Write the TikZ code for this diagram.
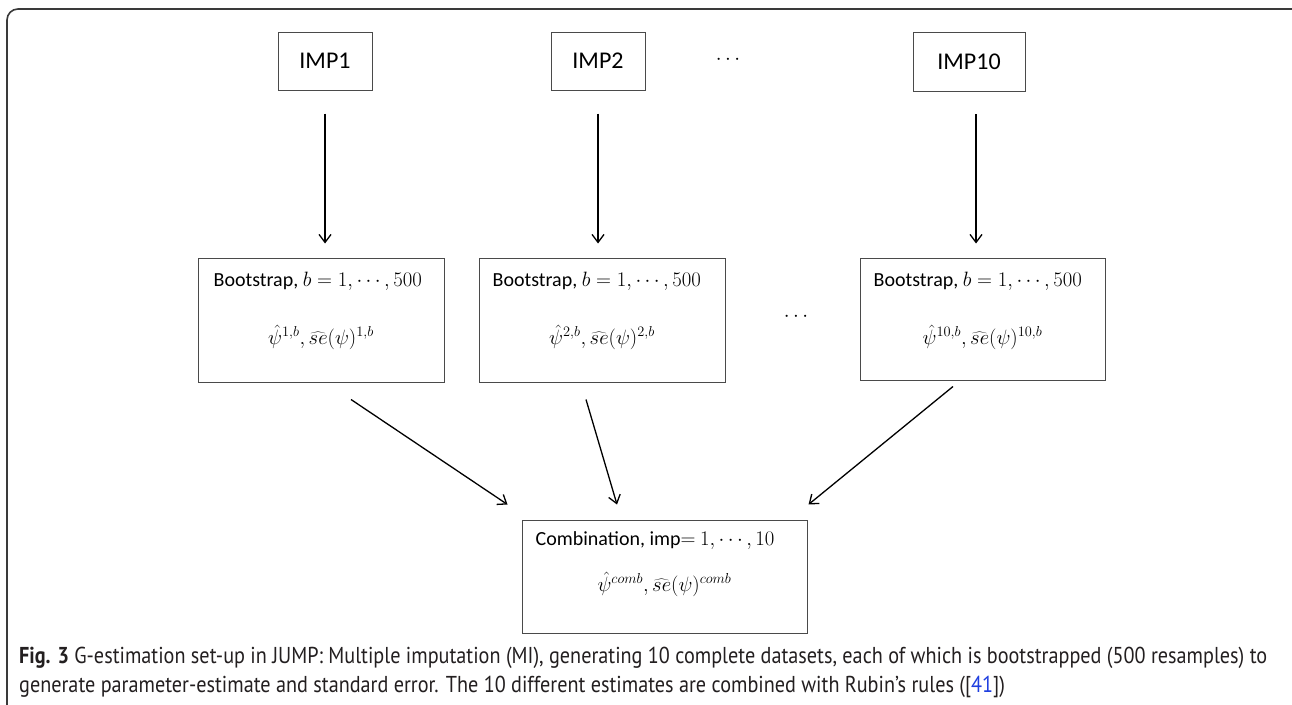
\documentclass[tikz,border=0pt]{standalone}
\usepackage{fontspec}
\setmainfont{Carlito}
\newfontfamily\capfont{PT Sans}
\usepackage{graphicx}
\usetikzlibrary{arrows.meta}
\definecolor{framegray}{HTML}{3A3A3A}
\definecolor{boxgray}{HTML}{4A4A4A}
\definecolor{captext}{HTML}{231F20}
\definecolor{linkblue}{HTML}{1F3FE0}
\newsavebox\capboxA
\newcommand\capLineOne{\textbf{Fig. 3} G-estimation set-up in JUMP: Multiple imputation (MI), generating 10 complete datasets, each of which is bootstrapped (500 resamples) to}
\begin{document}
\sbox\capboxA{\capfont\fontsize{23}{27}\selectfont\capLineOne}%
\pgfmathsetmacro\capsx{1248/\the\wd\capboxA}%
\begin{tikzpicture}[x=1pt,y=-1pt,
  box/.style={draw=boxgray, line width=1pt, inner sep=0pt},
  imptext/.style={font=\fontsize{24}{28}\selectfont},
  boxtext/.style={font=\fontsize{20}{24}\selectfont, inner sep=0pt},
  mathtext/.style={font=\fontsize{21}{25}\selectfont, inner sep=0pt},
  arr/.style={draw=black, line width=1.3pt, -{Straight Barb[length=8pt,width=12pt,line width=1.3pt]}},
  capline/.style={font=\capfont\fontsize{23}{27}\selectfont, text=captext, inner sep=0pt, anchor=base west}
]
\useasboundingbox (0,0) rectangle (1292,704);
\fill[white] (0,0) rectangle (1292,704);
\draw[framegray, line width=1.6pt, rounded corners=11pt] (7,9) rectangle (1303,716);

% top row
\node[box, imptext, minimum width=94pt, minimum height=58pt] (imp1) at (325,61) {IMP1};
\node[box, imptext, minimum width=94pt, minimum height=58pt] (imp2) at (598,61) {IMP2};
\node[box, imptext, minimum width=112pt, minimum height=59pt] (imp10) at (969,61.5) {IMP10};
\node[boxtext] (dots1) at (728,60) {$\cdots$};

% bootstrap row
\node[box, minimum width=246pt, minimum height=124pt] (boot1) at (321,320) {};
\node[box, minimum width=246pt, minimum height=124pt] (boot2) at (602,320) {};
\node[box, minimum width=245pt, minimum height=122pt] (boot3) at (982.5,319) {};
\node[boxtext] (dots2) at (796,317) {$\cdots$};

\node[boxtext, anchor=base west] (b1a) at ([shift={(16,29)}]boot1.north west) {Bootstrap, $b = 1,\cdots,500$};
\node[mathtext, anchor=base] (b1b) at ([shift={(0,87)}]boot1.north) {$\hat{\psi}^{1,b},\widehat{se}(\psi)^{1,b}$};
\node[boxtext, anchor=base west] (b2a) at ([shift={(14,29)}]boot2.north west) {Bootstrap, $b = 1,\cdots,500$};
\node[mathtext, anchor=base] (b2b) at ([shift={(0,87)}]boot2.north) {$\hat{\psi}^{2,b},\widehat{se}(\psi)^{2,b}$};
\node[boxtext, anchor=base west] (b3a) at ([shift={(14,29)}]boot3.north west) {Bootstrap, $b = 1,\cdots,500$};
\node[mathtext, anchor=base] (b3b) at ([shift={(0,87)}]boot3.north) {$\hat{\psi}^{10,b},\widehat{se}(\psi)^{10,b}$};

% combination
\node[box, minimum width=285pt, minimum height=113pt] (comb) at (664.5,576.5) {};
\node[boxtext, anchor=base west] (ca) at ([shift={(14,26)}]comb.north west) {Combination, imp$=$ $1,\cdots,10$};
\node[mathtext, anchor=base] (cb) at ([shift={(0,72)}]comb.north) {$\hat{\psi}^{comb},\widehat{se}(\psi)^{comb}$};

% arrows
\draw[arr] ([shift={(0,23)}]imp1.south) -- ([shift={(0,-14)}]boot1.north -| imp1.south);
\draw[arr] ([shift={(0,23)}]imp2.south) -- ([shift={(0,-14)}]boot2.north -| imp2.south);
\draw[arr] ([shift={(7,22.5)}]imp10.south) -- ([shift={(-6.5,-14)}]boot3.north);

\draw[arr] ([shift={(30,17)}]boot1.south) -- ([shift={(-14,-15)}]comb.north west);
\draw[arr] ([shift={(-16,17)}]boot2.south) -- ([shift={(-47.5,-15)}]comb.north);
\draw[arr] ([shift={(-29.5,6)}]boot3.south) -- ([shift={(1,-15)}]comb.north east);

% caption
\node[capline] (cap1) at (19,663) {\scalebox{\capsx}[1]{\capLineOne}};
\node[capline] (cap2) at (19,692) {\scalebox{\capsx}[1]{generate parameter-estimate and standard error. The 10 different estimates are combined with Rubin’s rules ([\textcolor{linkblue}{41}])}};
\end{tikzpicture}
\end{document}
